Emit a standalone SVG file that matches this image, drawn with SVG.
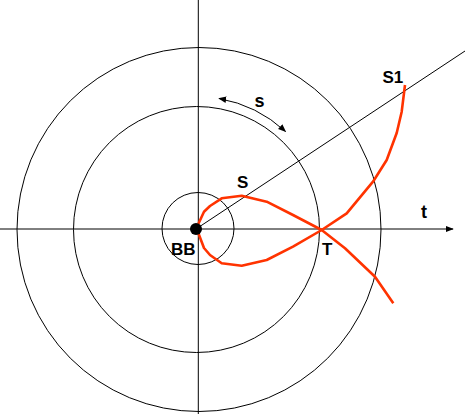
<svg xmlns="http://www.w3.org/2000/svg" width="465" height="414" viewBox="0 0 465 414">
<defs>
<marker id="ah" viewBox="0 0 10 10" refX="9" refY="5" markerWidth="8" markerHeight="8" markerUnits="userSpaceOnUse" orient="auto-start-reverse">
<path d="M0,1 L10,5 L0,9 z" fill="#000"/>
</marker>
</defs>
<style>
.ln{stroke:#000;stroke-width:1;fill:none}
.red{stroke:#ff3300;stroke-width:2.6;fill:none;stroke-linejoin:round;stroke-linecap:butt}
.lbl{font-family:"Liberation Sans",Arial,sans-serif;font-weight:bold;font-size:17px;fill:#000}
.sm{font-size:18px}
</style>
<rect width="465" height="414" fill="#fff"/>
<g id="circles">
<circle class="ln" cx="199" cy="229.5" r="182"/>
<circle class="ln" cx="196.5" cy="229.5" r="123"/>
<circle class="ln" cx="198" cy="228.5" r="36"/>
</g>
<g id="connectors">
<line class="ln" x1="198.3" y1="0" x2="198.3" y2="414"/>
<line class="ln" x1="0" y1="229" x2="453" y2="229" marker-end="url(#ah)"/>
<line class="ln" x1="196" y1="229" x2="465" y2="51"/>
<path class="ln" d="M219,98.5 A132,132 0 0 1 285.5,131.5" marker-start="url(#ah)" marker-end="url(#ah)"/>
</g>
<g id="curve">
<polyline class="red" points="198.3,224 204,211.7 210,206 221.7,198.3 241.7,195.7 266.7,201.7 293,215 321.7,230 345,248.3 375,276.7 393.3,303.3"/>
<polyline class="red" points="198.3,233 204,248 210,255 221.7,263.3 241.7,265.7 266.7,260 293,246.7 321.7,230 346.7,213.3 373,181.7 386.7,160 396.7,133 401.7,111.7 405,85"/>
</g>
<g id="BB">
<circle cx="196" cy="229" r="6" fill="#000"/>
<text class="lbl" x="171" y="255">BB</text>
</g>
<g id="labels">
<text class="lbl" x="237" y="188">S</text>
<text class="lbl" x="382.5" y="82.5">S1</text>
<text class="lbl sm" x="254.5" y="106.5">s</text>
<text class="lbl sm" x="421" y="218">t</text>
<text class="lbl" x="322" y="255">T</text>
</g>
</svg>
